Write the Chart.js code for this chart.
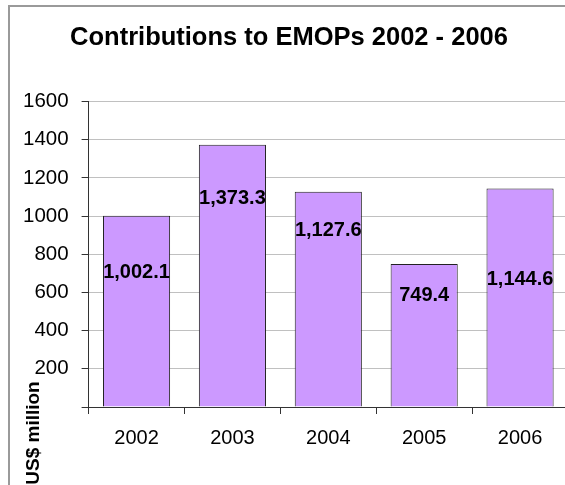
<!DOCTYPE html>
<html>
<head>
<meta charset="utf-8">
<script src="https://cdn.jsdelivr.net/npm/chart.js@4"></script>
<style>
  html, body { margin: 0; padding: 0; background: #fff; overflow: hidden; }
  #frame {
    position: absolute; left: 8px; top: 5px;
    border: 2px solid #9a9a9a;
    width: 570px; height: 500px;
  }
  #chart { display: block; }
</style>
</head>
<body>
<div id="frame">
  <canvas id="chart" width="562" height="478"></canvas>
</div>
<script>
// datos del gráfico
const years = ['2002', '2003', '2004', '2005', '2006'];
const contributions = [1002.1, 1373.3, 1127.6, 749.4, 1144.6];
const yTicks = [0, 200, 400, 600, 800, 1000, 1200, 1400, 1600];

// dónde va cada etiqueta (en unidades del eje Y), como en el original
const labelAt = [707, 1090, 924, 585, 667];

const FONT = "'Liberation Sans', Arial, sans-serif";

// Etiquetas de valor sobre las barras
const valueLabels = {
    id: 'valueLabels',
    afterDatasetsDraw(chart) {
        const ctx = chart.ctx;
        const yScale = chart.scales.y;
        const meta = chart.getDatasetMeta(0);
        ctx.save();
        ctx.font = 'bold 20px ' + FONT;
        ctx.fillStyle = '#000';
        ctx.textAlign = 'center';
        ctx.textBaseline = 'middle';
        meta.data.forEach((bar, i) => {
            const txt = contributions[i].toLocaleString('en-US', { minimumFractionDigits: 1, maximumFractionDigits: 1 });
            ctx.fillText(txt, bar.x, yScale.getPixelForValue(labelAt[i]));
        });
        ctx.restore();
    }
};

// Título del eje Y, abajo a la izquierda como en Excel
const yAxisTitle = {
    id: 'yAxisTitle',
    afterDraw(chart) {
        const ctx = chart.ctx;
        const area = chart.chartArea;
        ctx.save();
        ctx.translate(area.left - 55, area.bottom + 26);
        ctx.rotate(-Math.PI / 2);
        ctx.font = 'bold 19px ' + FONT;
        ctx.fillStyle = '#000';
        ctx.textAlign = 'center';
        ctx.textBaseline = 'middle';
        ctx.fillText('US$ million', 0, 0);
        ctx.restore();
    }
};

new Chart(document.getElementById('chart'), {
    type: 'bar',
    data: {
        labels: years,
        datasets: [{
            data: contributions,
            backgroundColor: '#cc99ff',
            borderColor: '#222',
            borderWidth: 1,
            barPercentage: 0.7,
            categoryPercentage: 1.0
        }]
    },
    options: {
        responsive: false,
        animation: false,
        layout: { padding: { left: 0, right: 4, top: 0, bottom: 23 } },
        plugins: {
            legend: { display: false },
            tooltip: { enabled: false },
            title: {
                display: true,
                text: 'Contributions to EMOPs 2002 - 2006',
                color: '#000',
                font: { family: FONT, size: 25.5, weight: 'bold' },
                padding: { top: 16, bottom: 48 }
            }
        },
        scales: {
            x: {
                grid: { offset: true, drawOnChartArea: false, tickColor: '#333', tickLength: 7 },
                border: { color: '#333', width: 1 },
                ticks: { color: '#000', font: { family: FONT, size: 20 }, padding: 12 }
            },
            y: {
                min: yTicks[0],
                max: yTicks[yTicks.length - 1],
                afterBuildTicks(axis) { axis.ticks = yTicks.map(v => ({ value: v })); },
                grid: { color: '#c0c0c0', tickColor: '#333', tickLength: 7 },
                border: { color: '#333', width: 1 },
                ticks: {
                    color: '#000',
                    font: { family: FONT, size: 20.5 },
                    padding: 13,
                    callback: v => (v === 0 ? '' : v)
                }
            }
        }
    },
    plugins: [valueLabels, yAxisTitle]
});
</script>
</body>
</html>
